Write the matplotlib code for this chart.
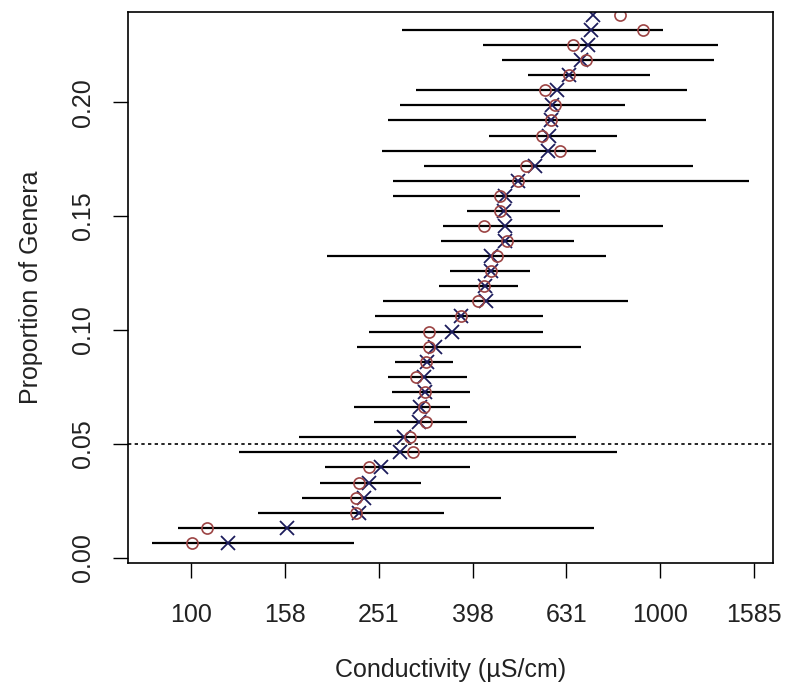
import numpy as np
import matplotlib
matplotlib.use("Agg")
import matplotlib.pyplot as plt

# =========================
# DATA
# =========================

proportion = [
    0.0066, 0.0132, 0.0199, 0.0265, 0.0331, 0.0397, 0.0464, 0.0530, 0.0596,
    0.0662, 0.0728, 0.0795, 0.0861, 0.0927, 0.0993, 0.1060, 0.1126, 0.1192,
    0.1258, 0.1325, 0.1391, 0.1457, 0.1523, 0.1589, 0.1656, 0.1722, 0.1788,
    0.1854, 0.1921, 0.1987, 0.2053, 0.2119, 0.2185, 0.2252, 0.2318, 0.2384
]

observed = [
    100.4, 107.9, 224.6, 224.6, 228.4, 238.9, 297.2, 293.0, 316.1,
    313.5, 314.8, 302.1, 316.8, 322.0, 321.2, 376.6, 408.9, 420.1,
    435.0, 449.6, 470.5, 420.9, 456.1, 456.1, 497.4, 518.3, 611.0,
    560.5, 584.0, 596.1, 568.5, 638.1, 695.6, 651.4, 918.7, 820.0
]

fitted = [
    120.1, 159.9, 227.9, 233.6, 239.9, 253.7, 278.8, 284.0, 306.5,
    307.7, 314.8, 313.5, 318.1, 331.4, 359.9, 376.6, 424.4, 422.7,
    435.0, 435.0, 467.6, 467.6, 463.7, 467.6, 497.4, 540.1, 575.6,
    578.0, 584.0, 587.5, 602.2, 638.1, 677.2, 699.8, 710.1, 717.5
]

# interval ends, last row has no interval drawn
lower = [
    82.6, 94.0, 138.8, 172.2, 188.6, 193.3, 126.7, 169.8, 244.9,
    222.3, 268.2, 263.3, 272.1, 225.5, 239.4, 246.4, 256.8, 338.3,
    356.2, 195.2, 340.4, 344.0, 387.5, 269.8, 269.8, 314.1, 254.7,
    430.5, 263.3, 278.3, 302.1, 523.6, 458.9, 418.3, 281.2
]

upper = [
    222.7, 720.4, 345.4, 458.0, 308.4, 393.3, 808.4, 660.7, 386.8,
    356.9, 393.3, 386.7, 362.2, 677.2, 562.6, 562.6, 854.8, 497.4,
    526.9, 764.7, 654.0, 1014, 612.2, 675.8, 1546, 1176, 727.8,
    808.4, 1251, 842.5, 1140, 951.3, 1304, 1325, 1014
]

x_ticks = [100, 158, 251, 398, 631, 1000, 1585]
x_tick_values = [10 ** 2.0, 10 ** 2.2, 10 ** 2.4, 10 ** 2.6, 10 ** 2.8, 10 ** 3.0, 10 ** 3.2]
y_ticks = [0.00, 0.05, 0.10, 0.15, 0.20]
cutoff = 0.05

# =========================
# FIGURE
# =========================

plt.rcParams["font.family"] = ["Liberation Sans", "DejaVu Sans"]

fig = plt.figure(figsize=(7.88, 6.94), dpi=100)
ax = fig.add_axes([0.1624, 0.1888, 0.8186, 0.7939])

text_color = "#222222"

# INTERVALS
ax.hlines(
    proportion[:len(lower)],
    lower,
    upper,
    colors="black",
    linewidth=1.6
)

# CUTOFF LINE
ax.axhline(
    cutoff,
    color="black",
    linestyle=(0, (2, 2)),
    linewidth=1.2
)

# FITTED (CROSSES)
ax.plot(
    fitted,
    proportion,
    linestyle="none",
    color="#1c1c5c",
    marker="x",
    markersize=10,
    markeredgewidth=1.3
)

# OBSERVED (CIRCLES)
ax.plot(
    observed,
    proportion,
    linestyle="none",
    marker="o",
    markersize=8,
    markerfacecolor="none",
    markeredgecolor="#9c4444",
    markeredgewidth=1.2
)

# AXES
ax.set_xscale("log")
ax.set_xlim(73.4, 1738)
ax.set_ylim(-0.0022, 0.2396)

ax.minorticks_off()
ax.set_xticks(x_tick_values)
ax.set_xticklabels([str(t) for t in x_ticks])
ax.set_yticks(y_ticks)
ax.set_yticklabels([f"{t:.2f}" for t in y_ticks], rotation=90, va="center")

ax.tick_params(
    axis="both",
    length=10.8,
    width=1.0,
    colors="black",
    labelcolor=text_color,
    labelsize=18
)
ax.tick_params(axis="x", pad=18)
ax.tick_params(axis="y", pad=13)

for spine in ax.spines.values():
    spine.set_linewidth(1.2)

ax.set_xlabel("Conductivity (\u00b5S/cm)", fontsize=18, color=text_color, labelpad=22)
ax.set_ylabel("Proportion of Genera", fontsize=18, color=text_color, labelpad=20)

fig.savefig("out.png", dpi=100)
